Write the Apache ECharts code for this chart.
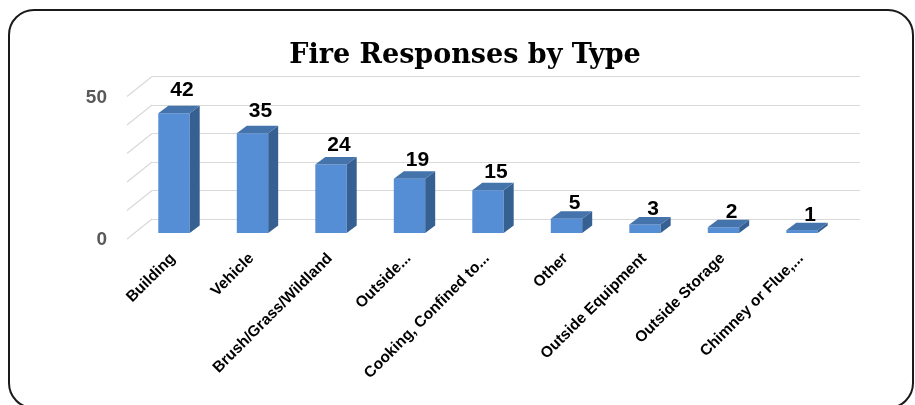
<!DOCTYPE html>
<html><head><meta charset="utf-8">
<script src="https://cdn.jsdelivr.net/npm/echarts@6/dist/echarts.min.js"></script>
<style>html,body{margin:0;padding:0;background:#fff}#c{width:915px;height:405px}</style>
</head><body><div id="c"></div>
<script>
const categories = ['Building','Vehicle','Brush/Grass/Wildland','Outside...','Cooking, Confined to...','Other','Outside Equipment','Outside Storage','Chimney or Flue,...'];
const values = [42, 35, 24, 19, 15, 5, 3, 2, 1];
const gridValues = [0, 10, 20, 30, 40, 50];
const yTickLabels = [0, 50];
const titleText = 'Fire Responses by Type';

const DX = 10, DY = 7.5;      // bar depth offsets
const WALL_DX = -25, WALL_DY = 20; // left wall depth
const chart = echarts.init(document.getElementById('c'), null, {renderer: 'canvas'});

const option = {
  backgroundColor: '#fff',
  animation: false,
  grid: [
    {left: 134.75, top: 90.5, width: 706.5, height: 142.5},
    {left: 152, top: 76.5, width: 708, height: 142.5},
    {left: 127, top: 97.5, width: 10, height: 142.5},
    {left: 133.75, top: 90.5, width: 706.5, height: 142.5}
  ],
  xAxis: [
    {gridIndex: 0, type: 'category', data: categories, show: false},
    {gridIndex: 1, type: 'value', min: 0, max: 1, show: false},
    {gridIndex: 2, type: 'value', min: 0, max: 1, show: false},
    {gridIndex: 3, type: 'category', data: categories,
     axisLine: {show: false}, axisTick: {show: false},
     axisLabel: {rotate: 45, margin: 23, interval: 0, color: '#000',
       fontFamily: 'Liberation Sans', fontWeight: 'bold', fontSize: 15.5}}
  ],
  yAxis: [
    {gridIndex: 0, type: 'value', min: 0, max: 50, show: false},
    {gridIndex: 1, type: 'value', min: 0, max: 50, interval: 10,
     axisLine: {show: false}, axisTick: {show: false}, axisLabel: {show: false},
     splitLine: {show: true, lineStyle: {color: '#d9d9d9', width: 1.2}}},
    {gridIndex: 2, type: 'value', min: 0, max: 50, interval: 50,
     axisLine: {show: false}, axisTick: {show: false}, splitLine: {show: false},
     axisLabel: {margin: 20, color: '#595959', fontFamily: 'Liberation Sans',
       fontWeight: 'bold', fontSize: 19,
       formatter: v => yTickLabels.indexOf(v) >= 0 ? String(v) : ''}},
    {gridIndex: 3, type: 'value', min: 0, max: 50, show: false}
  ],
  graphic: [
    {type: 'rect', shape: {x: 9, y: 10, width: 904, height: 398, r: 25},
     style: {fill: 'none', stroke: '#1a1a1a', lineWidth: 2}, z: 0},
    {type: 'text', x: 465, y: 56,
     style: {text: titleText, fill: '#000', font: 'bold 27px "DejaVu Serif"',
       textAlign: 'center', textVerticalAlign: 'middle'}, z: 10}
  ],
  series: [
    {type: 'custom', xAxisIndex: 1, yAxisIndex: 1, data: gridValues.map(v => [0, v]),
     encode: {x: 0, y: 1}, silent: true, z: 1,
     renderItem: function (params, api) {
       const c = api.coord([0, api.value(1)]);
       return {type: 'line', shape: {x1: c[0], y1: c[1], x2: c[0] + WALL_DX, y2: c[1] + WALL_DY},
         style: {stroke: '#d9d9d9', lineWidth: 1.2}};
     }},
    {type: 'custom', xAxisIndex: 0, yAxisIndex: 0, data: values.map((v, i) => [i, v]),
     encode: {x: 0, y: 1}, z: 5,
     renderItem: function (params, api) {
       const idx = api.value(0), val = api.value(1);
       const top = api.coord([idx, val]);
       const base = api.coord([idx, 0]);
       const w = api.size([1, 0])[0] * 0.4 / 2;
       const x = top[0], yt = top[1], yb = base[1];
       const h = yb - yt;
       return {type: 'group', children: [
         {type: 'rect', shape: {x: x - w, y: yt, width: 2 * w, height: h},
          style: {fill: '#558ed5'}},
         {type: 'polygon', shape: {points: [[x + w, yt], [x + w + DX, yt - DY], [x + w + DX, yb - DY], [x + w, yb]]},
          style: {fill: '#376092'}},
         {type: 'polygon', shape: {points: [[x - w, yt], [x - w + DX, yt - DY], [x + w + DX, yt - DY], [x + w, yt]]},
          style: {fill: '#4573ab'}},
         {type: 'text', x: x + 8, y: yt - 15 - 0.07 * h,
          style: {text: String(val), fill: '#000', font: 'bold 21px "Liberation Sans"',
            textAlign: 'center', textVerticalAlign: 'middle'}}
       ]};
     }}
  ]
};
chart.setOption(option);
</script>
</body></html>
